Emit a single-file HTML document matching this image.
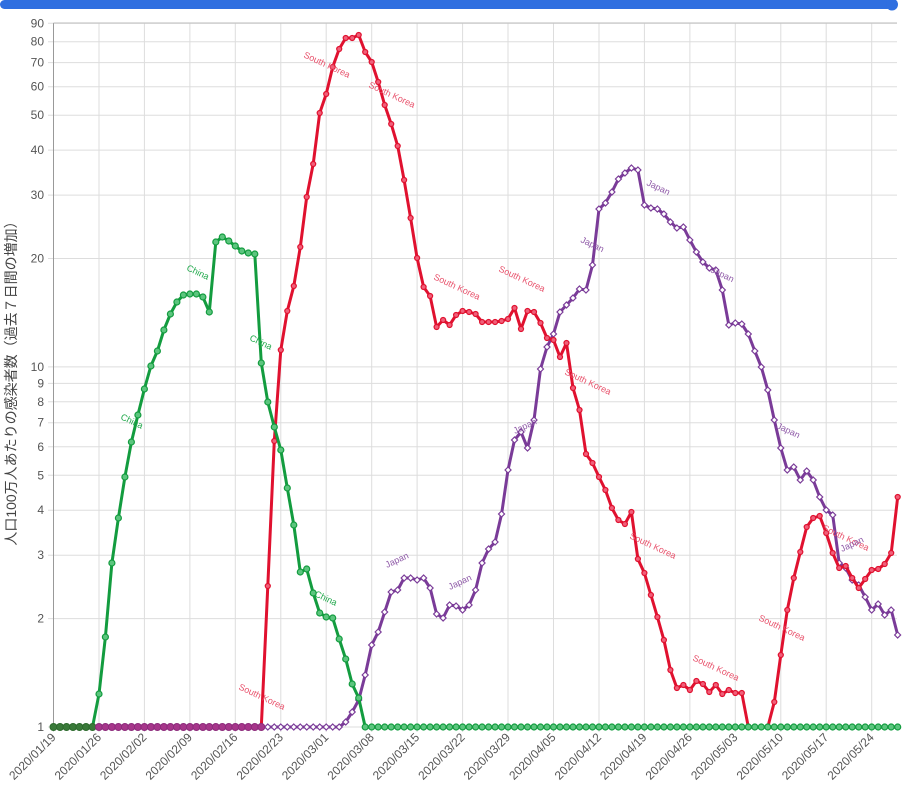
<!DOCTYPE html>
<html><head><meta charset="utf-8"><style>
html,body{margin:0;padding:0;background:#fff;width:919px;height:789px;overflow:hidden}
svg{display:block;font-family:"Liberation Sans","Noto Sans CJK JP",sans-serif}
</style></head><body>
<svg id="s" width="919" height="789" xmlns="http://www.w3.org/2000/svg"></svg>
<script>
const s=document.getElementById('s');
let h='';
h+='<rect x="0" y="0" width="892" height="9" rx="4.5" fill="#2f6fe0"/><circle cx="892" cy="4.5" r="6" fill="#2f6fe0"/>';
const X0=53.5,DX=6.4935,Y1=727,DEC=360.1;
const Y=v=>Y1-Math.log10(v)*DEC;
const L=[1,2,3,4,5,6,7,8,9,10,20,30,40,50,60,70,80,90];
for(const v of L){const y=Y(v).toFixed(1);h+=`<line x1="48" x2="897" y1="${y}" y2="${y}" stroke="#ddd"/><text x="44" y="${+y+4}" font-size="12" fill="#555" text-anchor="end">${v}</text>`;}
const dates=['01/19','01/26','02/02','02/09','02/16','02/23','03/01','03/08','03/15','03/22','03/29','04/05','04/12','04/19','04/26','05/03','05/10','05/17','05/24'];
dates.forEach((d,i)=>{const x=(X0+i*7*DX).toFixed(1);h+=`<line x1="${x}" x2="${x}" y1="23" y2="732" stroke="#ddd"/><text transform="translate(${+x+3},738) rotate(-45)" font-size="12" fill="#555" text-anchor="end">2020/${d}</text>`;});
h+=`<line x1="${X0}" x2="${X0}" y1="23" y2="727" stroke="#999"/><line x1="${X0}" x2="897" y1="23" y2="23" stroke="#bbb"/>`;
h+='<text transform="translate(16,380) rotate(-90)" font-size="14" fill="#444" text-anchor="middle">人口100万人あたりの感染者数（過去７日間の増加）</text>';
function ser(startDay,ys){const a=[];for(let d=0;d<131;d++){let y=727;if(d>=startDay&&d-startDay<ys.length)y=ys[d-startDay];a.push([X0+d*DX,y]);}return a;}
const green=ser(7,[694,637,563,518,477,442,415,389,366,351,330,314,302,295,294,294,297,312,242,237,241,246,251,253,254,363,402,427,450,488,525,572,569,593,613,617,618,639,659,684,698]);
const red=ser(33,[586,441,350,311,286,247,197,164,113,94,67,49,38,38,35,52,62,82,105,124,146,180,218,258,287,296,327,320,325,315,311,312,314,322,322,322,321,319,308,329,311,312,323,338,340,357,343,388,410,454,463,477,490,508,520,524,512,559,573,595,617,640,670,688,685,690,681,684,692,685,694,690,693,693,727,727,727,727,702,655,610,578,552,527,518,516,533,553,568,566,578,588,579,570,569,564,553,497]);
const jp=ser(45,[722,712,700,675,645,632,612,592,590,578,578,580,578,588,614,618,605,606,610,605,590,563,549,542,514,470,440,432,448,420,369,347,334,312,305,298,289,290,265,209,203,192,179,173,168,170,205,208,209,214,222,228,227,240,252,262,268,270,290,325,323,324,334,351,367,390,420,448,470,467,480,471,480,497,510,515,563,568,580,585,597,610,604,615,610,635]);
function path(a,c){return `<polyline fill="none" stroke="${c}" stroke-width="3" stroke-linejoin="round" points="${a.map(p=>p[0].toFixed(1)+','+p[1]).join(' ')}"/>`;}
function circ(a,c,f,r){return a.map(p=>`<circle cx="${p[0].toFixed(1)}" cy="${p[1]}" r="${r}" fill="${f}" stroke="${c}" stroke-width="1.2"/>`).join('');}
function dia(a,c){return a.map(p=>{const x=p[0],y=p[1];return `<polygon points="${x},${y-3} ${x+3},${y} ${x},${y+3} ${x-3},${y}" fill="#fff" stroke="${c}" stroke-width="1.2"/>`}).join('');}
h+=path(jp,'#7a3b98')+dia(jp,'#7a3b98');
h+=path(red,'#e0112f')+circ(red,'#e0112f','#f0607a',2.5);
h+=path(green,'#139c3f')+circ(green,'#139c3f','#5cc57e',3);
for(let d=0;d<7;d++)h+=`<circle cx="${(X0+d*DX).toFixed(1)}" cy="727" r="3.5" fill="#3a7a3a" stroke="#2d6b2d"/>`;
for(let d=7;d<33;d++)h+=`<circle cx="${(X0+d*DX).toFixed(1)}" cy="727" r="3.5" fill="#a6368a" stroke="#8d2b7c"/>`;
function lab(x,y,t,c,a){h+=`<text transform="translate(${x},${y}) rotate(${a})" font-size="9" fill="${c}">${t}</text>`;}
const R='#e8506a',G='#1fa84a',P='#8f5aa8';
lab(186,270,'China',G,25);lab(120,419,'China',G,25);lab(249,340,'China',G,25);lab(314,596,'China',G,25);
lab(303,57,'South Korea',R,25);lab(368,87,'South Korea',R,25);lab(433,279,'South Korea',R,25);lab(498,271,'South Korea',R,25);
lab(564,374,'South Korea',R,25);lab(629,538,'South Korea',R,25);lab(692,660,'South Korea',R,25);lab(758,620,'South Korea',R,25);lab(822,530,'South Korea',R,25);lab(238,689,'South Korea',R,25);
lab(387,568,'Japan',P,-25);lab(450,590,'Japan',P,-25);lab(515,434,'Japan',P,-25);lab(580,242,'Japan',P,25);lab(646,185,'Japan',P,25);lab(710,272,'Japan',P,25);lab(776,428,'Japan',P,25);lab(842,552,'Japan',P,-25);
s.innerHTML=h;
</script>
</body></html>
